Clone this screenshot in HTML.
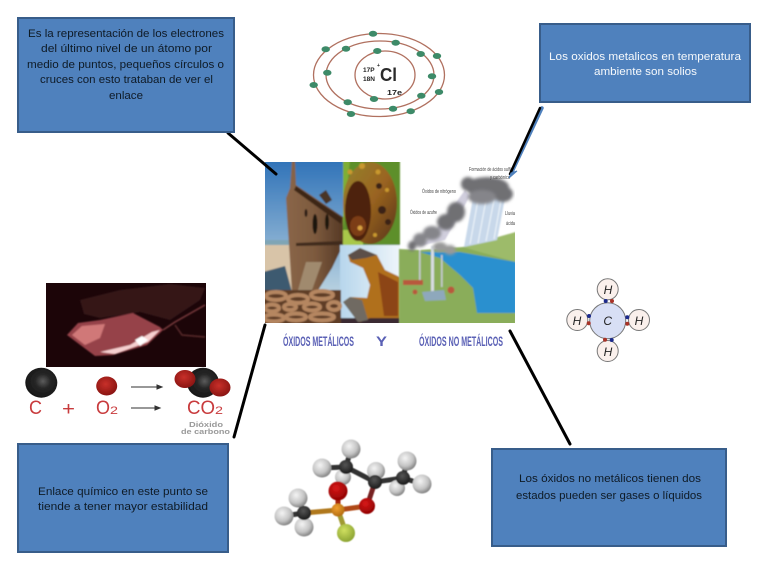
<!DOCTYPE html>
<html lang="es">
<head>
<meta charset="utf-8">
<title>Óxidos metálicos y no metálicos</title>
<style>
html,body{margin:0;padding:0;background:#fff}
svg{display:block}
text{font-family:"Liberation Sans",sans-serif}
.t{font-size:11px;fill:#101a26}
.w{font-size:11px;fill:#f6f9fc}
</style>
</head>
<body>
<svg width="768" height="576" viewBox="0 0 768 576" xmlns="http://www.w3.org/2000/svg">
<defs>
<filter id="b" x="-10%" y="-10%" width="120%" height="120%"><feGaussianBlur stdDeviation="0.8"/></filter>
<filter id="b2" x="-20%" y="-20%" width="140%" height="140%"><feGaussianBlur stdDeviation="1.5"/></filter>
<filter id="s" x="-10%" y="-10%" width="120%" height="120%"><feGaussianBlur stdDeviation="0.22"/></filter>
<filter id="m" x="-10%" y="-10%" width="120%" height="120%"><feGaussianBlur stdDeviation="0.5"/></filter>
<clipPath id="cl"><rect x="265" y="162" width="250" height="161"/></clipPath>
<clipPath id="cf"><rect x="46" y="283" width="160" height="84"/></clipPath>
<radialGradient id="gH" cx="40%" cy="35%" r="70%"><stop offset="0" stop-color="#f4f4f4"/><stop offset=".6" stop-color="#c4c4c4"/><stop offset="1" stop-color="#777"/></radialGradient>
<radialGradient id="gC" cx="45%" cy="35%" r="70%"><stop offset="0" stop-color="#555"/><stop offset="1" stop-color="#151515"/></radialGradient>
<radialGradient id="gO" cx="40%" cy="35%" r="70%"><stop offset="0" stop-color="#d81818"/><stop offset="1" stop-color="#8c0000"/></radialGradient>
<radialGradient id="gP" cx="40%" cy="35%" r="70%"><stop offset="0" stop-color="#f0a030"/><stop offset="1" stop-color="#b06a10"/></radialGradient>
<radialGradient id="gF" cx="40%" cy="35%" r="70%"><stop offset="0" stop-color="#d0e060"/><stop offset="1" stop-color="#88a030"/></radialGradient>
<radialGradient id="gK" cx="55%" cy="45%" r="60%"><stop offset="0" stop-color="#5c5c5c"/><stop offset=".4" stop-color="#262626"/><stop offset="1" stop-color="#151515"/></radialGradient>
<radialGradient id="gR" cx="45%" cy="40%" r="60%"><stop offset="0" stop-color="#c8302a"/><stop offset="1" stop-color="#8a1512"/></radialGradient>
<linearGradient id="sky" x1="0" y1="0" x2="0" y2="1"><stop offset="0" stop-color="#2f72b8"/><stop offset="1" stop-color="#b6d0e0"/></linearGradient>
<linearGradient id="hull" x1="0" y1="0" x2="1" y2="0"><stop offset="0" stop-color="#8a6648"/><stop offset=".5" stop-color="#7d5a3e"/><stop offset="1" stop-color="#543824"/></linearGradient>
<linearGradient id="anc" x1="0" y1="0" x2="1" y2="0"><stop offset="0" stop-color="#b7d6ec"/><stop offset="1" stop-color="#eef5fa"/></linearGradient>
<linearGradient id="rst" x1="0" y1="0" x2="1" y2="1"><stop offset="0" stop-color="#93832e"/><stop offset=".5" stop-color="#9a6420"/><stop offset="1" stop-color="#553218"/></linearGradient>
</defs>

<rect width="768" height="576" fill="#fff"/>

<!-- central picture: metallic -->
<g clip-path="url(#cl)">
<g filter="url(#b)">
<rect x="263" y="160" width="80" height="130" fill="url(#sky)"/>
<rect x="263" y="240" width="32" height="52" fill="#d8c4a8"/>
<rect x="263" y="240" width="32" height="5" fill="#7fa5b5"/>
<path d="M263 272 L285 266 L292 292 L263 292Z" fill="#3d5a70"/>
<path d="M292 160 L295 160 L296 185 L343 217 L344 243 L332 268 L317 292 L292 292 L286 198 L290 188Z" fill="url(#hull)"/>
<path d="M296 186 L342 218 L341 224 L294 190Z" fill="#3e2818"/>
<path d="M296 243 L342 241 L342 245 L296 246Z" fill="#3f2a1c"/>
<ellipse cx="315" cy="224" rx="2.5" ry="10" fill="#1f120c"/>
<ellipse cx="327" cy="222" rx="2" ry="8" fill="#1f120c"/>
<ellipse cx="306" cy="213" rx="1.5" ry="4" fill="#2a1a12"/>
<path d="M298 290 L306 262 L322 262 L312 290Z" fill="#a08a6e"/>
<path d="M319 195 L326 190 L332 200 L326 204Z" fill="#4a3426"/>

<rect x="343" y="160" width="57" height="86" fill="#5d8f2c"/>
<path d="M343 160 L350 160 L343 230Z" fill="#7fae34"/>
<rect x="343" y="230" width="20" height="16" fill="#a8c848"/>
<ellipse cx="370" cy="203" rx="27" ry="41" fill="url(#rst)"/>
<ellipse cx="358" cy="211" rx="13" ry="30" fill="#4e200c"/>
<ellipse cx="358" cy="226" rx="8" ry="10" fill="#7c3c14"/>
<circle cx="360" cy="228" r="2.5" fill="#d8a040"/>
<g fill="#c9982e"><circle cx="350" cy="172" r="2.5"/><circle cx="362" cy="166" r="3"/><circle cx="378" cy="172" r="2.5"/><circle cx="387" cy="190" r="2"/><circle cx="375" cy="235" r="2"/></g>
<g fill="#3a2312"><circle cx="382" cy="210" r="4"/><circle cx="388" cy="222" r="3"/><circle cx="379" cy="186" r="3"/></g>

<rect x="340" y="245" width="60" height="80" fill="url(#anc)"/>
<rect x="340" y="318" width="60" height="7" fill="#3a2a30"/>
<path d="M348 255 L360 248 L377 255 L385 270 L400 277 L400 318 L370 318 L360 322 L343 302 L350 297 L367 298 L370 285 L363 268 L350 262Z" fill="#b0701f"/>
<path d="M348 255 L360 248 L377 255 L366 258 L352 260Z" fill="#5c5048"/>
<path d="M343 302 L350 297 L362 300 L368 320 L358 322Z" fill="#6f6a62"/>
<path d="M378 272 L398 282 L398 316 L384 316Z" fill="#8c4518"/>

<rect x="263" y="290" width="78" height="35" fill="#5f3c26"/>
<g fill="none" stroke="#b58660" stroke-width="4">
<ellipse cx="276" cy="296" rx="10" ry="4"/><ellipse cx="298" cy="299" rx="10" ry="4"/><ellipse cx="322" cy="295" rx="11" ry="4"/>
<ellipse cx="272" cy="308" rx="7" ry="3.5"/><ellipse cx="312" cy="307" rx="8" ry="3.5"/><ellipse cx="334" cy="306" rx="6" ry="4"/>
<ellipse cx="274" cy="318" rx="10" ry="3.5"/><ellipse cx="296" cy="317" rx="10" ry="3.5"/><ellipse cx="322" cy="317" rx="12" ry="3.5"/>
<ellipse cx="290" cy="307" rx="6" ry="3"/>
</g>
</g>

<!-- central picture: non metallic -->
<g filter="url(#b)">
<path d="M399 249 L420 250 L463 247 L516 232 L516 325 L399 325Z" fill="#8aad5a"/>
<path d="M463 247 L516 232 L516 262 L480 252Z" fill="#9dbb6a"/>
<path d="M420 252 L460 252 L516 262 L516 313 L477 313 L473 288 L460 275 L440 258Z" fill="#2c90cf"/>
<path d="M473 198 L505 198 L497 240 L464 247Z" fill="#c8d8ea"/>
<g stroke="#f2f7fb" stroke-width="1"><path d="M478 200 L470 244M486 200 L478 243M494 200 L486 241M501 200 L494 239"/></g>
<path d="M420 246 L436 230 L465 190 L470 196 L445 240Z" fill="#b0aec6" opacity=".6"/>
<rect x="431" y="246" width="3" height="46" fill="#d8dde2"/>
<rect x="419" y="250" width="1.6" height="30" fill="#c8ccd0"/>
<rect x="441" y="255" width="1.6" height="32" fill="#c8ccd0"/>
<path d="M422 292 L444 290 L446 300 L425 301Z" fill="#8ea8bc"/>
<rect x="403" y="280" width="20" height="5" fill="#b8583e"/>
<circle cx="451" cy="290" r="3.5" fill="#b8583e"/>
<circle cx="415" cy="292" r="2.5" fill="#b8583e"/>
</g>
<g filter="url(#b2)" fill="#6f6f73">
<ellipse cx="487" cy="187" rx="22" ry="10"/><ellipse cx="468" cy="184" rx="7" ry="7"/><ellipse cx="503" cy="194" rx="10" ry="8"/>
<ellipse cx="482" cy="197" rx="14" ry="7" fill="#85858a"/>
<ellipse cx="456" cy="212" rx="9" ry="10"/><ellipse cx="446" cy="222" rx="9" ry="8"/><ellipse cx="432" cy="233" rx="9" ry="7" fill="#85858a"/>
<ellipse cx="420" cy="240" rx="7" ry="7" fill="#85858a"/><ellipse cx="412" cy="246" rx="4" ry="5"/>
<ellipse cx="440" cy="247" rx="7" ry="5" fill="#999"/><ellipse cx="450" cy="250" rx="6" ry="5" fill="#999"/>
</g>
</g>
<g filter="url(#s)" fill="#444" font-size="5">
<text x="469" y="171" textLength="44" lengthAdjust="spacingAndGlyphs">Formación de ácidos sulfúr</text>
<text x="490" y="179" textLength="20" lengthAdjust="spacingAndGlyphs">y carbónico</text>
<text x="422" y="193" textLength="34" lengthAdjust="spacingAndGlyphs">Óxidos de nitrógeno</text>
<text x="410" y="214" textLength="27" lengthAdjust="spacingAndGlyphs">Óxidos de azufre</text>
<text x="505" y="215" textLength="10" lengthAdjust="spacingAndGlyphs">Lluvia</text>
<text x="506" y="225" textLength="9" lengthAdjust="spacingAndGlyphs">ácida</text>
</g>
<g filter="url(#s)" fill="#5a60b5" font-weight="bold">
<text x="283" y="346" font-size="14" textLength="71" lengthAdjust="spacingAndGlyphs">ÓXIDOS METÁLICOS</text>
<text x="376" y="346" font-size="14" textLength="11" lengthAdjust="spacingAndGlyphs">Y</text>
<text x="419" y="346" font-size="14" textLength="84" lengthAdjust="spacingAndGlyphs">ÓXIDOS NO METÁLICOS</text>
</g>

<!-- connectors -->
<g stroke-linecap="round">
<path d="M228 133 L276 174" stroke="#000" stroke-width="3"/>
<path d="M542 108 L511 174" stroke="#4f81bd" stroke-width="3.5"/>
<path d="M540 108 L510 174" stroke="#000" stroke-width="2.5"/>
<path d="M265 325 L234 437" stroke="#000" stroke-width="3"/>
<path d="M510 331 L570 444" stroke="#000" stroke-width="3"/>
</g>
<path d="M509 178 L517 171 L511 173Z" fill="#4f81bd" stroke="#4f81bd"/>

<!-- boxes -->
<g fill="#4f81bd" stroke="#385d8a" stroke-width="2">
<rect x="18" y="18" width="216" height="114"/>
<rect x="540" y="24" width="210" height="78"/>
<rect x="18" y="444" width="210" height="108"/>
<rect x="492" y="449" width="234" height="97"/>
</g>
<g filter="url(#s)">
<text class="t" x="28" y="37" textLength="196" lengthAdjust="spacingAndGlyphs">Es la representación de los electrones</text>
<text class="t" x="41" y="52" textLength="171" lengthAdjust="spacingAndGlyphs">del último nivel de un átomo por</text>
<text class="t" x="27" y="68" textLength="197" lengthAdjust="spacingAndGlyphs">medio de puntos, pequeños círculos o</text>
<text class="t" x="40" y="83" textLength="173" lengthAdjust="spacingAndGlyphs">cruces con esto trataban de ver el</text>
<text class="t" x="109" y="99" textLength="34" lengthAdjust="spacingAndGlyphs">enlace</text>
<text class="w" x="549" y="60" textLength="192" lengthAdjust="spacingAndGlyphs">Los oxidos metalicos en temperatura</text>
<text class="w" x="594" y="75" textLength="103" lengthAdjust="spacingAndGlyphs">ambiente son solios</text>
<text class="t" x="38" y="495" textLength="170" lengthAdjust="spacingAndGlyphs">Enlace químico  en este punto se</text>
<text class="t" x="38" y="510" textLength="170" lengthAdjust="spacingAndGlyphs">tiende a tener mayor estabilidad</text>
<text class="t" x="519" y="482" textLength="182" lengthAdjust="spacingAndGlyphs">Los óxidos no metálicos tienen dos</text>
<text class="t" x="516" y="499" textLength="186" lengthAdjust="spacingAndGlyphs">estados pueden ser gases o líquidos</text>
</g>

<!-- chlorine atom -->
<g filter="url(#s)">
<g fill="none" stroke="#b0705f" stroke-width="1.3">
<ellipse cx="385" cy="75" rx="30" ry="24"/>
<ellipse cx="380" cy="75" rx="54" ry="34"/>
<ellipse cx="379" cy="75" rx="65.5" ry="41.5"/>
</g>
<g fill="#3d8a68">
<ellipse cx="373" cy="33.7" rx="4.2" ry="3"/><ellipse cx="325.7" cy="49.3" rx="4.2" ry="3"/><ellipse cx="346" cy="48.7" rx="4.2" ry="3"/>
<ellipse cx="395.7" cy="42.7" rx="4.2" ry="3"/><ellipse cx="420.7" cy="54" rx="4.2" ry="3"/><ellipse cx="437" cy="56" rx="4.2" ry="3"/>
<ellipse cx="377.3" cy="51" rx="4.2" ry="3"/><ellipse cx="432" cy="76.3" rx="4.2" ry="3"/><ellipse cx="327.3" cy="72.7" rx="4.2" ry="3"/>
<ellipse cx="313.7" cy="85" rx="4.2" ry="3"/><ellipse cx="439" cy="92" rx="4.2" ry="3"/><ellipse cx="421.3" cy="95.7" rx="4.2" ry="3"/>
<ellipse cx="374" cy="99" rx="4.2" ry="3"/><ellipse cx="347.7" cy="102.3" rx="4.2" ry="3"/><ellipse cx="393" cy="108.7" rx="4.2" ry="3"/>
<ellipse cx="410.7" cy="111.3" rx="4.2" ry="3"/><ellipse cx="351" cy="114" rx="4.2" ry="3"/>
</g>
<text x="363" y="72" font-size="6.5" font-weight="bold" fill="#222">17P</text>
<text x="377" y="67" font-size="5" font-weight="bold" fill="#222">+</text>
<text x="363" y="81" font-size="6.5" font-weight="bold" fill="#222">18N</text>
<text x="380" y="81" font-size="18" font-weight="bold" fill="#2a2a2a" textLength="17" lengthAdjust="spacingAndGlyphs">Cl</text>
<text x="387" y="95" font-size="7.5" font-weight="bold" fill="#222" textLength="15" lengthAdjust="spacingAndGlyphs">17e</text>
</g>

<!-- methane -->
<g filter="url(#s)">
<g stroke="#777" stroke-width="1" fill="#faf0ec">
<circle cx="607.7" cy="289.3" r="10.5"/><circle cx="577.3" cy="320" r="10.5"/>
<circle cx="639" cy="320" r="10.5"/><circle cx="607.7" cy="351" r="10.5"/>
</g>
<circle cx="607.7" cy="320.7" r="18" fill="#d8dff5" stroke="#777" stroke-width="1"/>
<g fill="#1a2a8c"><circle cx="605.7" cy="301" r="2"/><circle cx="611.7" cy="340" r="2"/><circle cx="589" cy="316" r="2"/><circle cx="627.3" cy="317.3" r="2"/></g>
<g fill="#a83028"><circle cx="612" cy="301" r="2"/><circle cx="605" cy="339.7" r="2"/><circle cx="588.7" cy="323.3" r="2"/><circle cx="627.3" cy="323.7" r="2"/></g>
<g font-size="12" font-style="italic" fill="#222" text-anchor="middle">
<text x="608" y="294">H</text><text x="577" y="325">H</text><text x="639" y="325">H</text><text x="608" y="356">H</text><text x="607.7" y="325">C</text>
</g>
</g>

<!-- molecule -->
<g filter="url(#m)">
<g stroke-width="5" fill="none">
<path d="M304 513 L338 510" stroke="#b0781e"/>
<path d="M338 510 L346 533" stroke="#a09a30"/>
<path d="M338 510 L338 491" stroke="#a52010"/>
<path d="M338 510 L367 506" stroke="#b04a18"/>
<path d="M367 506 L375 482" stroke="#772020"/>
</g>
<g stroke="#333" stroke-width="5" fill="none">
<path d="M346 467 L375 482 L403 478"/>
<path d="M346 467 L351 449M346 467 L322 468M346 467 L343 477M375 482 L376 471M403 478 L407 461M403 478 L422 484M403 478 L397 488"/>
<path d="M304 513 L298 498M304 513 L284 516M304 513 L304 527"/>
</g>
<circle cx="351" cy="449" r="9.5" fill="url(#gH)"/>
<circle cx="322" cy="468" r="9.5" fill="url(#gH)"/>
<circle cx="343" cy="477" r="8" fill="url(#gH)"/>
<circle cx="346" cy="467" r="7" fill="url(#gC)"/>
<circle cx="376" cy="471" r="9" fill="url(#gH)"/>
<circle cx="375" cy="482" r="7" fill="url(#gC)"/>
<circle cx="407" cy="461" r="9.5" fill="url(#gH)"/>
<circle cx="422" cy="484" r="9.5" fill="url(#gH)"/>
<circle cx="397" cy="488" r="8" fill="url(#gH)"/>
<circle cx="403" cy="478" r="7" fill="url(#gC)"/>
<circle cx="367" cy="506" r="8" fill="url(#gO)"/>
<circle cx="338" cy="491" r="9.5" fill="url(#gO)"/>
<circle cx="338" cy="510" r="6.5" fill="url(#gP)"/>
<circle cx="346" cy="533" r="9" fill="url(#gF)"/>
<circle cx="298" cy="498" r="9.5" fill="url(#gH)"/>
<circle cx="284" cy="516" r="9.5" fill="url(#gH)"/>
<circle cx="304" cy="527" r="9.5" fill="url(#gH)"/>
<circle cx="304" cy="513" r="7" fill="url(#gC)"/>
</g>

<!-- combustion -->
<rect x="46" y="283" width="160" height="84" fill="#1c0508"/>
<g clip-path="url(#cf)"><g filter="url(#b)">
<path d="M80 300 L120 290 L170 284 L205 288 L200 300 L170 320 L140 312 L100 318 L84 314Z" fill="#341316"/>
<path d="M67 335 L78 323 L100 320 L133 313 L160 327 L163 330 L147 345 L113 355 L95 356Z" fill="#96424a"/>
<path d="M72 335 L82 326 L105 324 L100 338 L85 345Z" fill="#d07878"/>
<path d="M100 352 L130 345 L152 332 L160 330 L148 342 L115 354Z" fill="#f6d0d0"/>
<path d="M135 340 L142 336 L148 340 L140 346Z" fill="#fff"/>
<path d="M163 330 L175 322 L205 305" fill="none" stroke="#7a3a3c" stroke-width="1.5"/>
<path d="M175 325 L182 335 L205 337" fill="none" stroke="#5a2a2c" stroke-width="1.5"/>
</g></g>
<g filter="url(#s)">
<ellipse cx="41.3" cy="382.7" rx="16" ry="15" fill="url(#gK)"/>
<ellipse cx="106.7" cy="386" rx="10.5" ry="9.5" fill="url(#gR)"/>
<ellipse cx="203" cy="382.7" rx="16" ry="15" fill="url(#gK)"/>
<ellipse cx="185" cy="379" rx="10.5" ry="9" fill="url(#gR)"/>
<ellipse cx="220" cy="387.5" rx="10.5" ry="9" fill="url(#gR)"/>
<g stroke="#333" stroke-width="1" fill="#333">
<path d="M131 387 L160 387"/><path d="M162 387 L157 385 L157 389Z"/>
<path d="M131 408 L158 408"/><path d="M160 408 L155 406 L155 410Z"/>
</g>
<g fill="#c83a3c" font-size="19">
<text x="29" y="414" textLength="13" lengthAdjust="spacingAndGlyphs">C</text>
<text x="62" y="415" textLength="13" lengthAdjust="spacingAndGlyphs">+</text>
<text x="96" y="414" textLength="14" lengthAdjust="spacingAndGlyphs">O</text>
<text x="110" y="414" font-size="11" textLength="8" lengthAdjust="spacingAndGlyphs">2</text>
<text x="187" y="414" textLength="28" lengthAdjust="spacingAndGlyphs">CO</text>
<text x="215" y="414" font-size="11" textLength="8" lengthAdjust="spacingAndGlyphs">2</text>
</g>
<g fill="#999" font-size="7.5" font-weight="bold">
<text x="189" y="427" textLength="34" lengthAdjust="spacingAndGlyphs">Dióxido</text>
<text x="181" y="434" textLength="49" lengthAdjust="spacingAndGlyphs">de carbono</text>
</g>
</g>
</svg>
</body>
</html>
